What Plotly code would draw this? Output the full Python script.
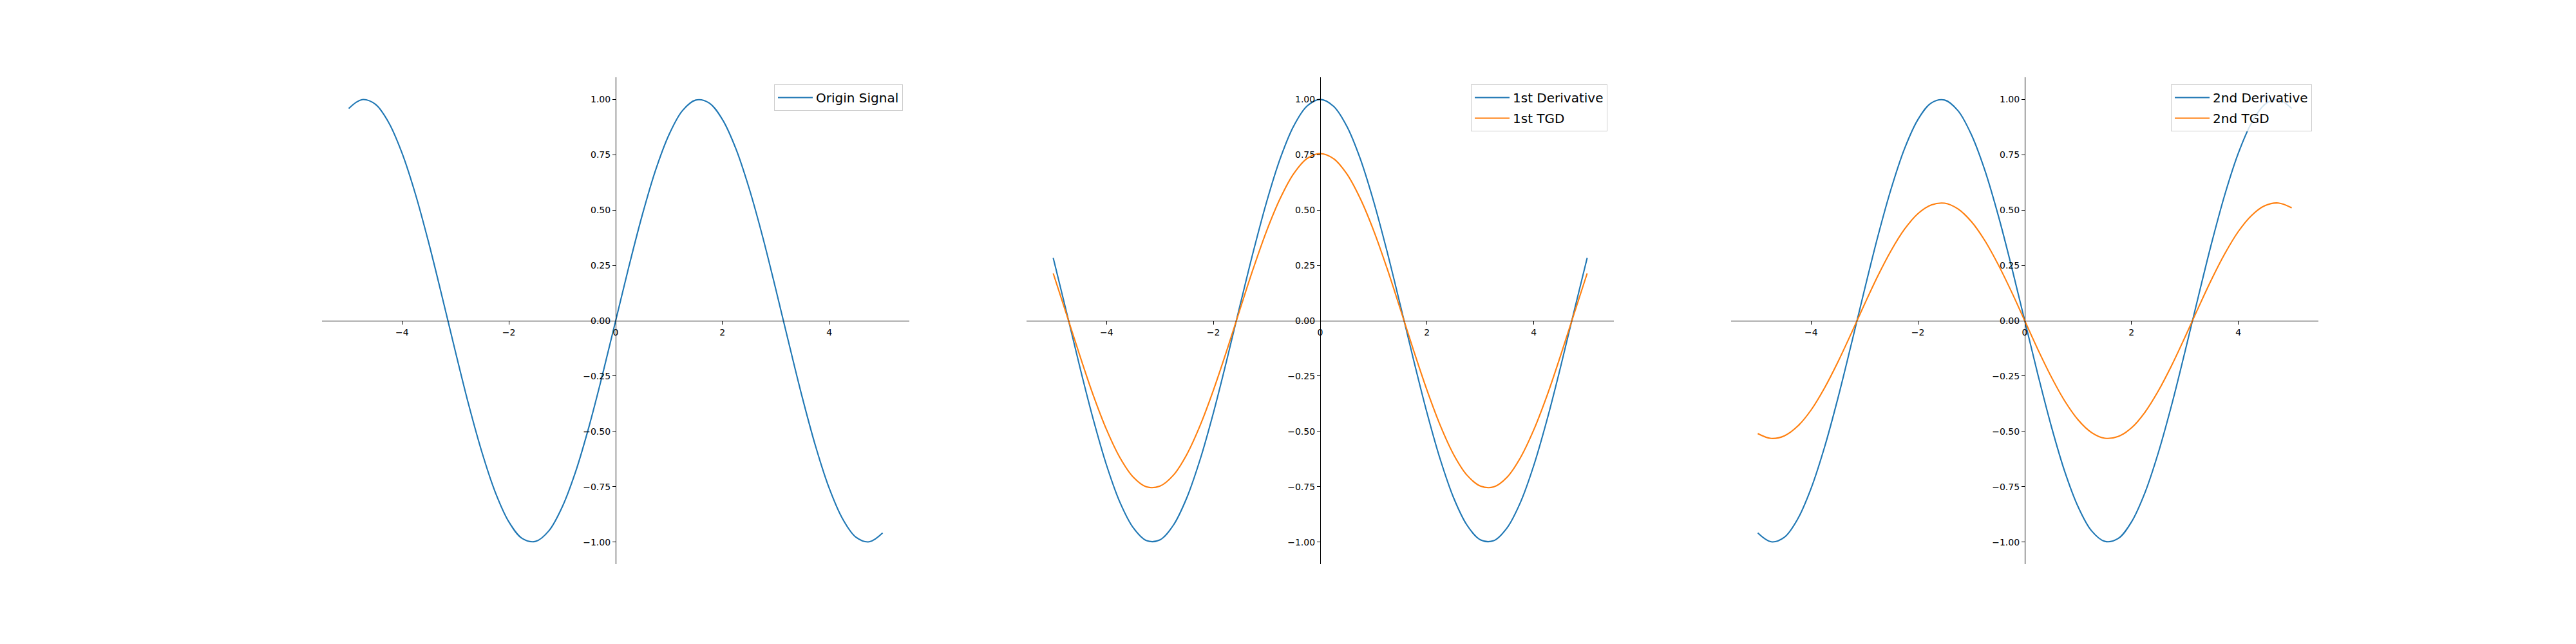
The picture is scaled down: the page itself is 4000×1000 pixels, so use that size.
import plotly.graph_objects as go


# ---------------------------
# DATA
# ---------------------------

x_values = [
    -5.0, -4.75, -4.5, -4.25, -4.0, -3.75, -3.5, -3.25, -3.0, -2.75,
    -2.5, -2.25, -2.0, -1.75, -1.5, -1.25, -1.0, -0.75, -0.5, -0.25,
    0.0, 0.25, 0.5, 0.75, 1.0, 1.25, 1.5, 1.75, 2.0, 2.25,
    2.5, 2.75, 3.0, 3.25, 3.5, 3.75, 4.0, 4.25, 4.5, 4.75, 5.0
]

origin_signal = [
    0.959, 0.999, 0.978, 0.895, 0.757, 0.572, 0.351, 0.108, -0.141, -0.382,
    -0.598, -0.778, -0.909, -0.984, -0.997, -0.949, -0.841, -0.682, -0.479, -0.247,
    0.000, 0.247, 0.479, 0.682, 0.841, 0.949, 0.997, 0.984, 0.909, 0.778,
    0.598, 0.382, 0.141, -0.108, -0.351, -0.572, -0.757, -0.895, -0.978, -0.999, -0.959
]

first_derivative = [
    0.284, 0.038, -0.211, -0.446, -0.654, -0.821, -0.936, -0.994, -0.990, -0.924,
    -0.801, -0.628, -0.416, -0.178, 0.071, 0.315, 0.540, 0.732, 0.878, 0.969,
    1.000, 0.969, 0.878, 0.732, 0.540, 0.315, 0.071, -0.178, -0.416, -0.628,
    -0.801, -0.924, -0.990, -0.994, -0.936, -0.821, -0.654, -0.446, -0.211, 0.038, 0.284
]

first_tgd = [
    0.214, 0.028, -0.159, -0.337, -0.493, -0.619, -0.707, -0.751, -0.747, -0.698,
    -0.605, -0.474, -0.314, -0.135, 0.053, 0.238, 0.408, 0.552, 0.663, 0.732,
    0.755, 0.732, 0.663, 0.552, 0.408, 0.238, 0.053, -0.135, -0.314, -0.474,
    -0.605, -0.698, -0.747, -0.751, -0.707, -0.619, -0.493, -0.337, -0.159, 0.028, 0.214
]

second_derivative = [
    -0.959, -0.999, -0.978, -0.895, -0.757, -0.572, -0.351, -0.108, 0.141, 0.382,
    0.598, 0.778, 0.909, 0.984, 0.997, 0.949, 0.841, 0.682, 0.479, 0.247,
    0.000, -0.247, -0.479, -0.682, -0.841, -0.949, -0.997, -0.984, -0.909, -0.778,
    -0.598, -0.382, -0.141, 0.108, 0.351, 0.572, 0.757, 0.895, 0.978, 0.999, 0.959
]

second_tgd = [
    -0.510, -0.532, -0.520, -0.476, -0.403, -0.304, -0.187, -0.058, 0.075, 0.203,
    0.318, 0.414, 0.484, 0.523, 0.531, 0.505, 0.448, 0.363, 0.255, 0.132,
    0.000, -0.132, -0.255, -0.363, -0.448, -0.505, -0.531, -0.523, -0.484, -0.414,
    -0.318, -0.203, -0.075, 0.058, 0.187, 0.304, 0.403, 0.476, 0.520, 0.532, 0.510
]

x_ticks = [-4, -2, 0, 2, 4]
y_ticks = [-1.0, -0.75, -0.5, -0.25, 0.0, 0.25, 0.5, 0.75, 1.0]

BLUE = "#1f77b4"
ORANGE = "#ff7f0e"
FONT = "DejaVu Sans"

# panel positions (paper fractions), matplotlib-like layout
x_domains = [[0.125, 0.353], [0.3985, 0.6265], [0.672, 0.9]]
y_domain = [0.124, 0.88]

panels = [
    [("Origin Signal", origin_signal, BLUE)],
    [("1st Derivative", first_derivative, BLUE), ("1st TGD", first_tgd, ORANGE)],
    [("2nd Derivative", second_derivative, BLUE), ("2nd TGD", second_tgd, ORANGE)],
]

fig = go.Figure()

for i, series in enumerate(panels):
    n = "" if i == 0 else str(i + 1)
    for name, values, color in series:
        fig.add_trace(
            go.Scatter(
                x=x_values,
                y=values,
                mode="lines",
                name=name,
                legendgroup=name,
                line=dict(color=color, width=2.1, shape="spline", smoothing=1),
                xaxis="x" + n,
                yaxis="y" + n,
                legend="legend" + n,
            )
        )

layout = dict(
    width=4000,
    height=1000,
    margin=dict(l=0, r=0, t=0, b=0),
    paper_bgcolor="white",
    plot_bgcolor="white",
    font=dict(family=FONT, size=14, color="black"),
    showlegend=True,
)

mid_y = (y_domain[0] + y_domain[1]) / 2

for i, dom in enumerate(x_domains):
    n = "" if i == 0 else str(i + 1)
    mid_x = (dom[0] + dom[1]) / 2
    axis_style = dict(
        showgrid=False,
        zeroline=False,
        showline=True,
        linecolor="black",
        linewidth=1.1,
        ticks="outside",
        ticklen=5,
        tickwidth=1.1,
        tickcolor="black",
        tickfont=dict(family=FONT, size=14),
        anchor="free",
    )
    layout["xaxis" + n] = dict(
        domain=dom,
        range=[-5.5, 5.5],
        position=mid_y,
        tickvals=x_ticks,
        **axis_style,
    )
    layout["yaxis" + n] = dict(
        domain=y_domain,
        range=[-1.1, 1.1],
        position=mid_x,
        tickvals=y_ticks,
        tickformat=".2f",
        **axis_style,
    )
    layout["legend" + n] = dict(
        x=dom[1] - 10 / 4000,
        y=y_domain[1] - 11 / 1000,
        xanchor="right",
        yanchor="top",
        bgcolor="rgba(255,255,255,0.8)",
        bordercolor="#cccccc",
        borderwidth=1,
        itemwidth=54,
        tracegroupgap=3,
        font=dict(family=FONT, size=20, color="black"),
    )

fig.update_layout(**layout)

fig.write_html(
    "out.html",
    config={"displayModeBar": False},
    post_script="document.body.style.margin='0';",
)
